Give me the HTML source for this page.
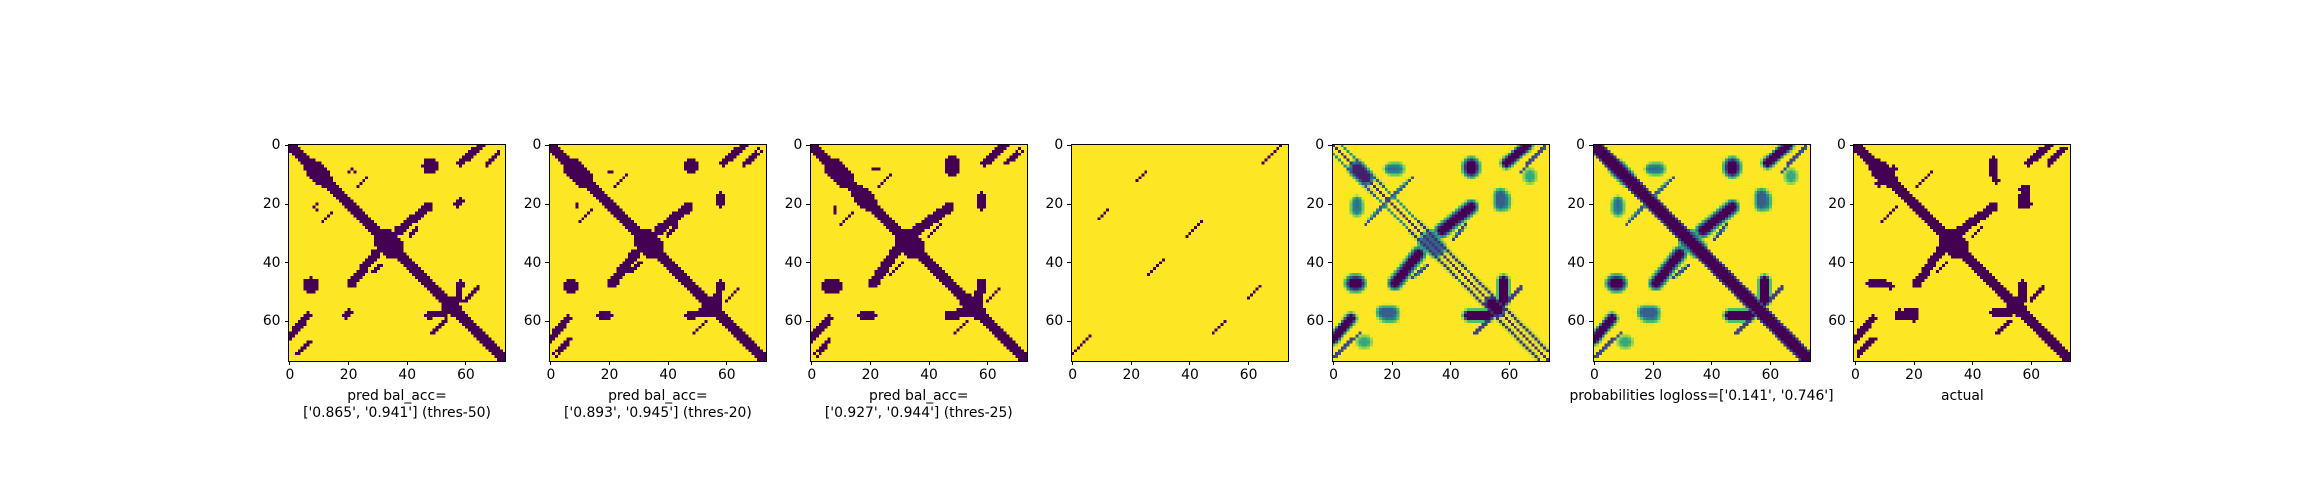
<!DOCTYPE html>
<html><head><meta charset="utf-8">
<style>
html,body{margin:0;padding:0;background:#fff;width:2300px;height:500px;overflow:hidden;}
#fig{position:relative;width:2300px;height:500px;font-family:"DejaVu Sans","Liberation Sans",sans-serif;font-size:13.9px;color:#000;}
canvas{position:absolute;image-rendering:pixelated;}
.frame{position:absolute;border:1px solid #000;box-sizing:border-box;}
.tk{position:absolute;background:#000;}
.tl{position:absolute;white-space:nowrap;line-height:16px;}
.cap{position:absolute;text-align:center;white-space:nowrap;line-height:16.5px;}
</style></head>
<body>
<div id="fig"></div>
<script>
// ---- data ----
const N = 74;
const ticks = [0, 20, 40, 60];
const captions = [
  ["pred bal_acc=", "['0.865', '0.941'] (thres-50)"],
  ["pred bal_acc=", "['0.893', '0.945'] (thres-20)"],
  ["pred bal_acc=", "['0.927', '0.944'] (thres-25)"],
  [],
  [],
  ["probabilities logloss=['0.141', '0.746']"],
  ["actual"]
];
// features: [row0, col0, row1, col1, halfWidth, softEdge, peak]  (mirrored about diagonal)
const featActual = [
  [0,0,73,73,2.0,0,1],[8,8,11,11,3.0,0,1],[8,13,11,8,1.2,0,1],[31,33,34,36,2.3,0,1],[54,54,56,56,2.8,0,1],
  [21,47,29,36,1.5,0,1],[47,57,53,57,1.3,0,1],[6,59,0,66,1.3,0,1],[7,66,1,72,0.7,0,1],
  [5,47,10,47,1.2,0,1],[15,58,20,57,1.6,0,1],[14,21,9,26,0.7,0,1],[31,40,28,43,0.6,0,1],
  [53,60,49,64,0.6,0,1],[64,48,60,52,0.6,0,1],[71,1,66,6,0.8,0,1],[57,15,59,20,1.2,0,1],[47,7,48,12,1.0,0,1]
];
const featP1 = [
  [0,0,73,73,2.0,0,1],[8,8,11,11,3.0,0,1],[31,33,34,36,2.3,0,1],[54,54,56,56,2.8,0,1],
  [21,47,29,37,1.5,0,1],[47,58,53,57,1.3,0,1],[6,58,0,65,1.3,0,1],[7,67,3,71,0.6,0,1],
  [7,47.5,7,48,2.6,0,1],[19,58,20,57,1.0,0,1],[14,23,11,26,0.6,0,1],[31,41,28,43,0.6,0,1],
  [53,59,48,64,0.6,0,1],[64,49,60,53,0.6,0,1],[71,2,67,6,0.6,0,1],[58,18,58,19,0.9,0,1],[20,9,20,9,0.7,0,1],[8,21,9,22,0.7,0,1]
];
const featP2 = [
  [0,0,73,73,2.0,0,1],[8,8,11,11,3.2,0,1],[31,33,34,36,2.4,0,1],[54,54,56,56,2.9,0,1],
  [21,47,29,37,1.6,0,1],[47,58,53,57,1.4,0,1],[6,59,0,66,1.3,0,1],[7,66,2,72,0.6,0,1],
  [7,48,7,48,2.8,0,1],[17,58,20,58,1.1,0,1],[14,22,10,26,0.6,0,1],[31,40,27,43,0.6,0,1],
  [53,60,49,64,0.6,0,1],[64,49,60,53,0.6,0,1],[71,1,66,6,0.6,0,1],[58,18,58,19,1.0,0,1],[9,20,9,21,0.8,0,1]
];
const featP3 = [
  [0,0,73,73,2.1,0,1],[8,8,11,11,3.2,0,1],[17,17,19,19,3.0,0,1],[31,33,34,36,2.6,0,1],[54,54,56,56,3.0,0,1],
  [21,47,29,36,1.7,0,1],[47,58,53,57,1.5,0,1],[6,59,0,66,1.4,0,1],[6,67,2,72,0.6,0,1],
  [6,48,8,48,2.8,0,1],[17,58,21,58,1.3,0,1],[14,23,10,27,0.6,0,1],[31,40,27,44,0.6,0,1],
  [53,60,49,64,0.6,0,1],[64,49,60,53,0.6,0,1],[71,1,66,6,0.6,0,1],[58,17,58,20,1.2,0,1],[8,21,8,23,0.8,0,1]
];
const featThin = [
  [6,65,0,71,0.45,0,1],[12,22,9,25,0.45,0,1],[31,39,26,44,0.45,0,1],[52,60,48,64,0.45,0,1]
];
const featProbBase = [
  [8,8,11,11,1.5,2.0,0.9],[31,33,35,36,1.2,1.8,0.7],[54,54,56,56,1.8,1.5,1],
  [21,47,29,37,1.2,1.8,1],[46,58,53,58,1.1,1.3,1],[6,59,0,66,1.1,1.3,1],[9,64,1,72,0.3,0.4,0.75],
  [7,47,8,47,1.7,2.0,1],[17,57,20,57,1.1,2.0,0.7],[8,20,8,22,0.9,1.8,0.6],[19,8,21,8,0.7,1.6,0.65],
  [16,21,27,11,0.3,0.4,0.75],[32,41,27,45,0.3,0.4,0.8],[53,60,49,64,0.3,0.4,0.8],
  [64,48,60,52,0.3,0.4,0.8],[72,0,66,6,0.3,0.4,0.8],[58,18,58,20,1.1,2.0,0.6],[67,10,67,10,1.0,1.8,0.4],
  [11,67,11,67,1.0,1.8,0.4]
];
const featProbDiagLines = [
  [0,0,73,73,0.3,0.3,0.85],[0,3,70,73,0.25,0.3,0.5],
  [26,29,42,45,0.35,0.4,0.85],[44,47,60,63,0.35,0.4,0.85],[5,8,14,17,0.35,0.4,0.75],[55,58,70,73,0.35,0.4,0.85]
];
const featProbDiagThick = [[0,0,73,73,2.0,0.6,1]];
const panels = [featP1, featP2, featP3, featThin, featProbBase.concat(featProbDiagLines), featProbBase.concat(featProbDiagThick), featActual];

// ---- layout ----
const P0 = 288.5, DX = 260.9, TOP = 144, SZ = 217, CELL = SZ / N;
const vir = [[0x44,0x01,0x54],[0x3b,0x52,0x8b],[0x21,0x91,0x8c],[0x5e,0xc9,0x62],[0xfd,0xe7,0x25]];
function viridis(t){t=Math.max(0,Math.min(1,t));const s=t*4;const i=Math.min(3,Math.floor(s));const f=s-i;
  return vir[i].map((a,k)=>Math.round(a+(vir[i+1][k]-a)*f));}
function segDist(r,c,f){const [r0,c0,r1,c1]=f;const dr=r1-r0,dc=c1-c0;const L=dr*dr+dc*dc;
  let t=L?((r-r0)*dr+(c-c0)*dc)/L:0;t=Math.max(0,Math.min(1,t));const pr=r0+t*dr-r,pc=c0+t*dc-c;return Math.sqrt(pr*pr+pc*pc);}
function intensity(r,c,feats){let v=0;for(const f of feats){for(const [a,b] of [[r,c],[c,r]]){const d=segDist(a,b,f);const w=f[4],s=f[5],p=f[6];
  let x; if(s<=0){x=d<=w?1:0;} else {x=d<=w?1:Math.max(0,1-(d-w)/s);} v=Math.max(v,x*p);}}return v;}
const fig=document.getElementById('fig');
panels.forEach((feats,pi)=>{
  const left=P0+pi*DX;
  const cv=document.createElement('canvas');
  
  
  cv.width=N;cv.height=N;cv.style.left=left+'px';cv.style.top=TOP+'px';cv.style.width=SZ+'px';cv.style.height=SZ+'px';
  const ctx=cv.getContext('2d');const img=ctx.createImageData(N,N);
  for(let r=0;r<N;r++)for(let c=0;c<N;c++){const v=intensity(r,c,feats);const col=viridis(1-v);const k=(r*N+c)*4;
    img.data[k]=col[0];img.data[k+1]=col[1];img.data[k+2]=col[2];img.data[k+3]=255;}
  ctx.putImageData(img,0,0);fig.appendChild(cv);
  const fr=document.createElement('div');fr.className='frame';
  
  
  fr.style.left=(left-0.5)+'px';fr.style.top=(TOP-0.5)+'px';fr.style.width=(SZ+1)+'px';fr.style.height=(SZ+1)+'px';fig.appendChild(fr);
  ticks.forEach(t=>{
    const pos=(t+0.5)*CELL;
    const xt=document.createElement('div');xt.className='tk';
    
    
    xt.style.left=(left+pos-0.5)+'px';xt.style.top=(TOP+SZ)+'px';xt.style.width='1px';xt.style.height='4px';fig.appendChild(xt);
    const xl=document.createElement('div');xl.className='tl';
    
    
    xl.textContent=t;xl.style.left=(left+pos-20)+'px';xl.style.width='40px';xl.style.textAlign='center';xl.style.top=(TOP+SZ+6)+'px';fig.appendChild(xl);
    const yt=document.createElement('div');yt.className='tk';
    
    
    yt.style.left=(left-4)+'px';yt.style.top=(TOP+pos-0.5)+'px';yt.style.width='4px';yt.style.height='1px';fig.appendChild(yt);
    const yl=document.createElement('div');yl.className='tl';
    
    
    yl.textContent=t;yl.style.left=(left-48)+'px';yl.style.width='40px';yl.style.textAlign='right';yl.style.top=(TOP+pos-8)+'px';fig.appendChild(yl);
  });
  if(captions[pi].length){
    const cp=document.createElement('div');cp.className='cap';
    
    
    cp.innerHTML=captions[pi].join('<br>');cp.style.left=(left+SZ/2-150)+'px';cp.style.width='300px';cp.style.top='388px';fig.appendChild(cp);
  }
});
</script>
</body></html>
